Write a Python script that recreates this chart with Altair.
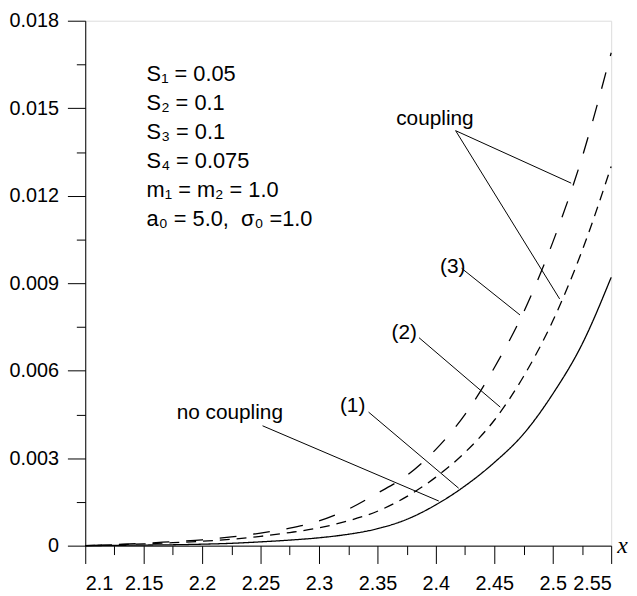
import altair as alt
import pandas as pd

# ---- data ----
x_vals = [2.1, 2.125, 2.15, 2.175, 2.2, 2.225, 2.25, 2.275, 2.3, 2.325, 2.35,
          2.375, 2.4, 2.425, 2.45, 2.475, 2.5, 2.525, 2.55]
curve_1 = [0.0, 0.00001, 0.00002, 0.00003, 0.00005, 0.00008, 0.00013, 0.00019,
           0.00027, 0.00039, 0.00058, 0.0009, 0.0014, 0.00205, 0.00285, 0.00383,
           0.0052, 0.0069, 0.0092]
curve_2 = [0.0, 0.00003, 0.00006, 0.0001, 0.00015, 0.00022, 0.00032, 0.00045,
           0.00061, 0.00085, 0.00118, 0.00168, 0.00235, 0.0032, 0.0043, 0.0058,
           0.0077, 0.0101, 0.0130]
curve_3 = [0.0, 0.00004, 0.00008, 0.00014, 0.0002, 0.0003, 0.00043, 0.0006,
           0.00085, 0.00125, 0.0018, 0.0024, 0.0033, 0.0045, 0.0061, 0.0080,
           0.0104, 0.0133, 0.0169]
curve_names = ["1", "2", "3"]

x_major = [2.1, 2.15, 2.2, 2.25, 2.3, 2.35, 2.4, 2.45, 2.5, 2.55]
x_minor = [2.125, 2.175, 2.225, 2.275, 2.325, 2.375, 2.425, 2.475, 2.525]
y_major = [0, 0.003, 0.006, 0.009, 0.012, 0.015, 0.018]
y_minor = [0.0015, 0.0045, 0.0075, 0.0105, 0.0135, 0.0165]

param_text = ["S₁ = 0.05", "S₂ = 0.1", "S₃ = 0.1", "S₄ = 0.075",
              "m₁ = m₂ = 1.0", "a₀ = 5.0,\u00a0 σ₀ =1.0"]
param_x = [2.1525] * 6
param_y = [0.016166, 0.015175, 0.014183, 0.013191, 0.012199, 0.011208]

label_text = ["coupling", "(3)", "(2)", "(1)", "no coupling"]
label_x = [2.3992, 2.4144, 2.3729, 2.3288, 2.2237]
label_y = [0.01464, 0.00954, 0.0073, 0.00479, 0.00455]

lead_x = [2.4169, 2.4169, 2.4220, 2.3856, 2.3424, 2.2517]
lead_y = [0.01423, 0.01423, 0.00951, 0.00713, 0.00458, 0.00411]
lead_x2 = [2.5158, 2.5059, 2.4720, 2.4551, 2.4195, 2.4025]
lead_y2 = [0.01243, 0.00846, 0.00791, 0.00475, 0.00197, 0.00153]

# ---- tables ----
rows = []
for name, vals in zip(curve_names, [curve_1, curve_2, curve_3]):
    for xv, yv in zip(x_vals, vals):
        rows.append({"x": xv, "y": yv, "curve": name})
curves = pd.DataFrame(rows)
params = pd.DataFrame({"x": param_x, "y": param_y, "t": param_text})
labels = pd.DataFrame({"x": label_x, "y": label_y, "t": label_text})
leads = pd.DataFrame({"x": lead_x, "y": lead_y, "x2": lead_x2, "y2": lead_y2})

W, H = 531, 530
FONT = "Liberation Sans"
xs = alt.Scale(domain=[2.1, 2.55], nice=False, zero=False)
ys = alt.Scale(domain=[0, 0.018], nice=False, zero=False)

x_axis_major = alt.Axis(values=x_major, labelExpr="format(datum.value, '~g')",
                        orient="bottom", tickSize=18, labelPadding=10,
                        labelFontSize=20, labelFont=FONT, labelColor="black",
                        labelFontWeight="normal",
                        grid=False, domain=True, domainColor="black",
                        tickColor="black", title="x", titleFont="Liberation Serif",
                        titleFontStyle="italic", titleFontWeight="normal",
                        titleFontSize=24, titleColor="black", titleX=W + 11,
                        titleY=0, titleBaseline="middle", titleAlign="center",
                        titleAngle=0)
y_axis_major = alt.Axis(values=y_major, labelExpr="format(datum.value, '~g')",
                        orient="left", tickSize=18, labelPadding=9,
                        labelFontSize=20, labelFont=FONT, labelColor="black",
                        labelFontWeight="normal",
                        grid=False, domain=True, domainColor="black",
                        tickColor="black", title=None)
x_axis_minor = alt.Axis(values=x_minor, orient="bottom", tickSize=9, labels=False,
                        grid=False, domain=False, tickColor="black", title=None)
y_axis_minor = alt.Axis(values=y_minor, orient="left", tickSize=9, labels=False,
                        grid=False, domain=False, tickColor="black", title=None)

lines = alt.Chart(curves).mark_line(
    color="black", strokeWidth=1.3, interpolate="monotone").encode(
    x=alt.X("x:Q", scale=xs, axis=x_axis_major),
    y=alt.Y("y:Q", scale=ys, axis=y_axis_major),
    strokeDash=alt.StrokeDash("curve:N", legend=None,
                              scale=alt.Scale(domain=curve_names,
                                              range=[[1, 0], [10, 7], [17, 17]])))

rules = alt.Chart(leads).mark_rule(color="black", strokeWidth=1).encode(
    x=alt.X("x:Q", scale=xs, axis=x_axis_minor),
    y=alt.Y("y:Q", scale=ys, axis=y_axis_minor),
    x2="x2:Q", y2="y2:Q")

ptext = alt.Chart(params).mark_text(align="left", baseline="middle", fontSize=22,
                                    font=FONT, color="black").encode(
    x=alt.X("x:Q", scale=xs, axis=None), y=alt.Y("y:Q", scale=ys, axis=None), text="t:N")
ltext = alt.Chart(labels).mark_text(align="center", baseline="middle", fontSize=21,
                                    font=FONT, color="black").encode(
    x=alt.X("x:Q", scale=xs, axis=None), y=alt.Y("y:Q", scale=ys, axis=None), text="t:N")

chart = alt.layer(lines, rules, ptext, ltext).resolve_axis(
    x="independent", y="independent").properties(
    width=W, height=H,
    autosize=alt.AutoSizeParams(type="none"),
    padding={"left": 78, "top": 10, "right": 18, "bottom": 48},
).configure_view(stroke="black", strokeWidth=1).configure(background="white")

chart.save("out.html", embed_options={"renderer": "svg", "actions": False})
